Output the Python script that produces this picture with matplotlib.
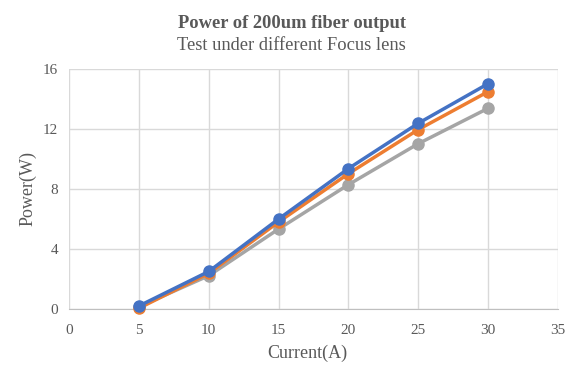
import matplotlib
matplotlib.use("Agg")
import matplotlib.pyplot as plt

current = [5, 10, 15, 20, 25, 30]
power_blue = [0.2, 2.5, 6.0, 9.36, 12.38, 15.02]
power_orange = [0.05, 2.38, 5.8, 9.02, 11.96, 14.49]
power_gray = [0.15, 2.22, 5.33, 8.29, 11.02, 13.38]

x_ticks = [0, 5, 10, 15, 20, 25, 30, 35]
y_ticks = [0, 4, 8, 12, 16]

TEXT = '#595959'
GRID = '#D9D9D9'

plt.rcParams['font.family'] = ['Liberation Serif', 'DejaVu Serif']

fig = plt.figure(figsize=(5.83, 3.73), dpi=100)
ax = fig.add_axes([0.1184, 0.1716, 0.8386, 0.6434])

for ys, color in [(power_gray, '#A5A5A5'), (power_orange, '#ED7D31'), (power_blue, '#4472C4')]:
    ax.plot(current, ys, color=color, linewidth=2.5, marker='o', markersize=8,
            solid_capstyle='round', zorder=3, clip_on=False)

ax.set_xlim(0, 35)
ax.set_ylim(0, 16)
ax.set_xticks(x_ticks)
ax.set_yticks(y_ticks)
ax.grid(True, color=GRID, linewidth=1)
ax.set_axisbelow(True)
for s in ax.spines.values():
    s.set_visible(False)
ax.spines['bottom'].set_visible(True)
ax.spines['bottom'].set_color('#BFBFBF')
ax.tick_params(length=0, labelsize=11, labelcolor=TEXT)
ax.tick_params(axis='x', pad=11)
ax.tick_params(axis='y', pad=8)

ax.set_xlabel("Current(A)", fontsize=13, color=TEXT)
ax.set_ylabel("Power(W)", fontsize=13, color=TEXT)
ax.xaxis.set_label_coords(0.487, -0.183)
ax.yaxis.set_label_coords(-0.084, 0.5)
ax.xaxis.label.set_va('center')
ax.yaxis.label.set_va('center')

fig.text(0.5, 0.937, "Power of 200um fiber output", ha='center', va='center',
         fontsize=13.3, fontweight='bold', color=TEXT)
fig.text(0.5, 0.878, "Test under different Focus lens", ha='center', va='center',
         fontsize=13.3, color=TEXT)

fig.savefig("out.png", dpi=100)
